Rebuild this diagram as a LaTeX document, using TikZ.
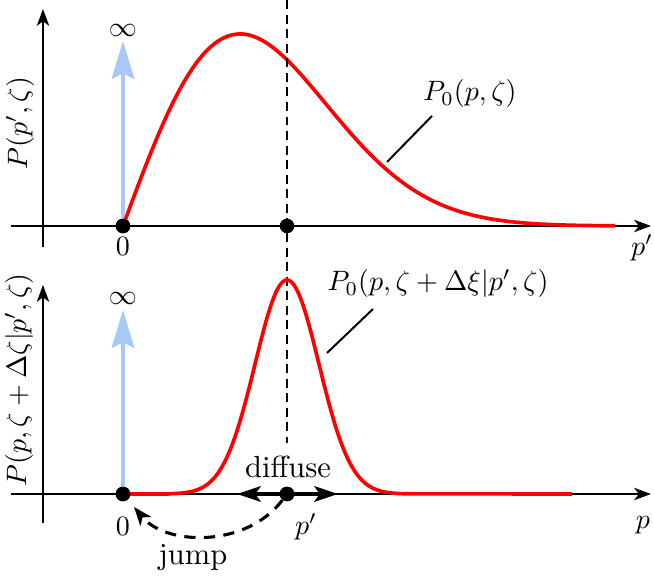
\documentclass[tikz,border=0pt]{standalone}
\usetikzlibrary{arrows.meta}
\definecolor{lightblue}{RGB}{168,200,248}
\definecolor{curvered}{RGB}{255,0,0}
\begin{document}
\begin{tikzpicture}[x=0.357pt,y=-0.357pt,
  axisline/.style={line width=0.71pt,-{Stealth[length=6pt,width=4.4pt,inset=1.6pt]}},
  infarrow/.style={lightblue,line width=1.45pt,-{Stealth[length=13.5pt,width=8pt,inset=2pt]}},
  curve/.style={curvered,line width=1.3pt},
  dot/.style={circle,fill=black,inner sep=0pt,minimum size=5.2pt},
  guide/.style={line width=0.71pt,dash pattern=on 3.2pt off 2pt},
  pointer/.style={line width=0.71pt},
  diffarrow/.style={line width=1.1pt,-{Stealth[length=8.5pt,width=5.6pt,inset=2pt]}},
  jumparrow/.style={line width=1.1pt,dash pattern=on 4pt off 3pt,-{Stealth[length=6.6pt,width=5pt,inset=1.8pt]}},
  lbl/.style={inner sep=0pt},
  wordlbl/.style={inner sep=0pt,anchor=base,font=\fontsize{10.9}{13}\selectfont}]
\useasboundingbox (0,0) rectangle (654,582);

% ---------- top panel ----------
\coordinate (tyb) at (43,247);
\coordinate (tyt) at (43,9);
\coordinate (txl) at (11,226);
\coordinate (txr) at (651,226);
\draw[axisline] (tyb) -- (tyt);
\draw[axisline] (txl) -- (txr);

\node[dot] (t0) at (123,226) {};
\node[dot] (tp) at (287,226) {};
\coordinate (tinf) at (123,41);
\draw[infarrow] (t0.center) -- (tinf);
\node[lbl] (tinflbl) at (123,30) {$\infty$};

\draw[curve] plot[domain=0:492,samples=150,smooth]
  ({123+\x},{226-192*(\x/117)*exp(0.5-(\x/117)^2/2)});
\node[dot] at (t0) {};

\node[lbl] (t0lbl) at (123,246) {$0$};
\node[lbl] (tplbl) at (642,248) {$p'$};
\node[lbl,rotate=90] (tylbl) at (20,123) {$P(p',\zeta)$};
\node[lbl,anchor=base] (tcurvelbl) at (470,101) {$P_0(p,\zeta)$};
\coordinate (tpa) at (387,162);
\coordinate (tpb) at (432,116);
\draw[pointer] (tpa) -- (tpb);

% dashed guide
\coordinate (gtop) at (287,0);
\coordinate (gbot) at (287,443);
\draw[guide] (gtop) -- (gbot);

% ---------- bottom panel ----------
\coordinate (byb) at (43,523);
\coordinate (byt) at (43,285);
\coordinate (bxl) at (11,494);
\coordinate (bxr) at (651,494);
\draw[axisline] (byb) -- (byt);
\draw[axisline] (bxl) -- (bxr);

\node[dot] (b0) at (123,494) {};
\node[dot] (bp) at (287,494) {};
\coordinate (binf) at (123,310);
\draw[infarrow] (b0.center) -- (binf);
\node[lbl] (binflbl) at (123,298) {$\infty$};

\draw[curve] (b0.center) -- (167,494) -- plot[domain=167:407,samples=160,smooth]
  (\x,{494-214*exp(-((\x-287)/32)^2/2)}) -- (572,494);

\coordinate (dl) at (237,494);
\coordinate (dr) at (338,494);
\draw[diffarrow] (bp.center) -- (dl);
\draw[diffarrow] (bp.center) -- (dr);
\node[dot] at (bp) {};
\node[dot] at (b0) {};

\node[wordlbl] (difflbl) at (288,478) {diffuse};
\coordinate (jend) at (134,507);
\draw[jumparrow] (bp) .. controls (246,548) and (166,546) .. (jend);
\node[wordlbl] (jumplbl) at (193,565) {jump};

\node[lbl] (b0lbl) at (123,526) {$0$};
\node[lbl] (bplbl) at (306,527) {$p'$};
\node[lbl] (bxlbl) at (643,525) {$p$};
\node[lbl,rotate=90] (bylbl) at (19,380) {$P(p,\zeta+\Delta\zeta|p',\zeta)$};
\node[lbl,anchor=base] (bcurvelbl) at (438,291) {$P_0(p,\zeta+\Delta\xi|p',\zeta)$};
\coordinate (bpa) at (327,353);
\coordinate (bpb) at (373,309);
\draw[pointer] (bpa) -- (bpb);
\end{tikzpicture}
\end{document}
